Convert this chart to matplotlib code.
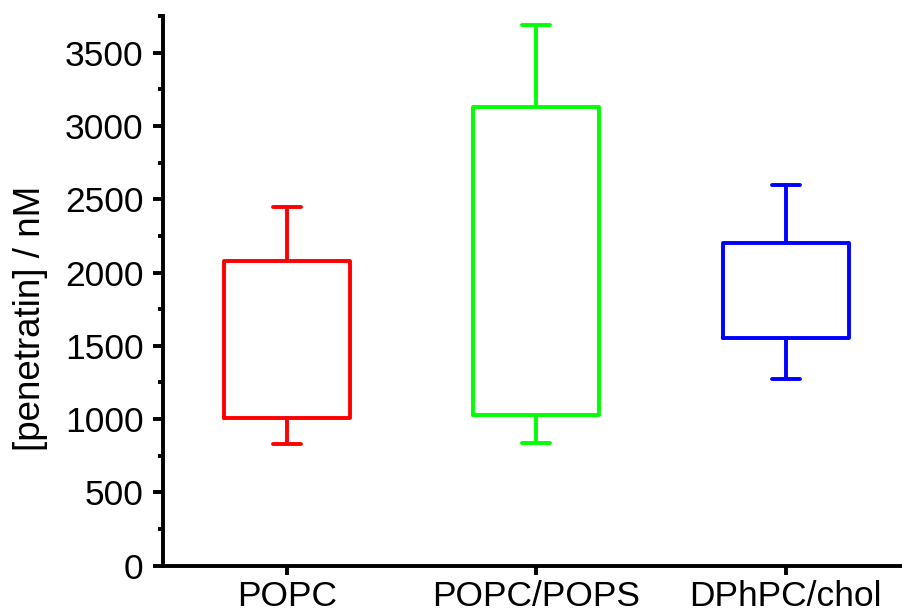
import matplotlib
matplotlib.use("Agg")
import matplotlib.pyplot as plt
from matplotlib.ticker import MultipleLocator

plt.rcParams["font.family"] = ["Liberation Sans", "DejaVu Sans"]

categories = ["POPC", "POPC/POPS", "DPhPC/chol"]
whisker_low = [828, 839, 1272]
box_low = [1006, 1028, 1556]
box_high = [2079, 3128, 2204]
whisker_high = [2449, 3689, 2597]
colors = ["#ff0000", "#00ff00", "#0000ff"]

fig = plt.figure(figsize=(9.02, 6.15), dpi=100)
ax = fig.add_axes([163 / 902, 49.3 / 615, 739 / 902, 549.7 / 615])

positions = [1, 2, 3]
for pos, lo, q1, q3, hi, col, name in zip(positions, whisker_low, box_low,
                                          box_high, whisker_high, colors,
                                          categories):
    stats = [dict(label=name, whislo=lo, q1=q1, med=q1, q3=q3, whishi=hi)]
    line_kw = dict(color=col, linewidth=2.8, solid_capstyle="round",
                   solid_joinstyle="round")
    ax.bxp(stats, positions=[pos], widths=0.505, showfliers=False,
           boxprops=line_kw, whiskerprops=line_kw,
           capprops=line_kw, medianprops=dict(visible=False),
           capwidths=0.112, manage_ticks=False)

ax.set_xlim(0.504, 3.466)
ax.set_ylim(0, 3750)
ax.set_xticks(positions)
ax.set_xticklabels(categories)
ax.yaxis.set_major_locator(MultipleLocator(500))
ax.yaxis.set_minor_locator(MultipleLocator(250))

for side in ("top", "right"):
    ax.spines[side].set_visible(False)
for side in ("left", "bottom"):
    ax.spines[side].set_linewidth(2.8)

ax.tick_params(axis="y", which="major", direction="out", length=7,
               width=2.8, labelsize=25.5, pad=7)
ax.tick_params(axis="y", which="minor", direction="out", length=3.5,
               width=2.8)
ax.tick_params(axis="x", which="major", direction="out", length=6.5,
               width=2.8, labelsize=25.5, pad=4)
ax.tick_params(axis="x", which="minor", bottom=False)

ax.set_ylabel("[penetratin] / nM", fontsize=26.5)
ax.yaxis.set_label_coords(-0.155, 0.45)

fig.savefig("out.png", dpi=100)
